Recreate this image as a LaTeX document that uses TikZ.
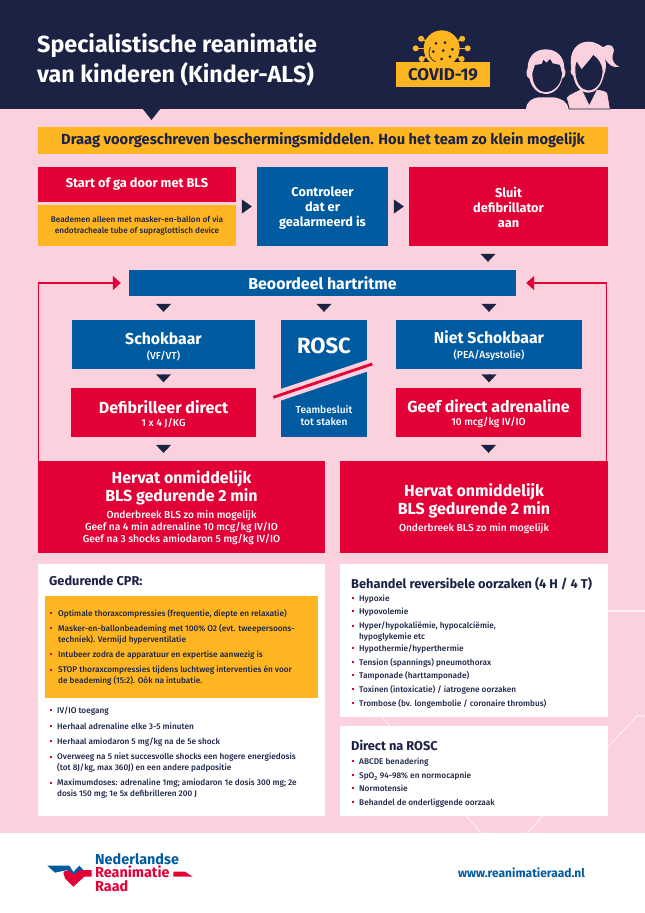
\documentclass[tikz,border=0pt]{standalone}
\usepackage{fontspec}
\setmainfont{Fira Sans}
\newfontfamily\medfont{Fira Sans Medium}
\usetikzlibrary{arrows.meta}
\definecolor{nrnavy}{HTML}{1B2244}
\definecolor{nrpink}{HTML}{FAD1DD}
\definecolor{nryellow}{HTML}{FDB522}
\definecolor{nrred}{HTML}{E30037}
\definecolor{nrblue}{HTML}{005BA0}
\newcommand{\fsz}[2]{\fontsize{#1}{#2}\selectfont}
\newcommand{\klein}{\medfont\mdseries\fsz{10.2}{12}}
\newcommand{\zak}[1]{\rule{0pt}{#1pt}}
\begin{document}
\begin{tikzpicture}[x=1pt,y=-1pt,
    box/.style={rectangle,inner sep=0pt,align=center,font=\bfseries\fsz{12.8}{15}},
    redbox/.style={box,fill=nrred,text=white},
    bluebox/.style={box,fill=nrblue,text=white},
    yellowbox/.style={box,fill=nryellow,text=nrnavy},
    whitebox/.style={rectangle,fill=white,inner sep=0pt},
    kop/.style={inner sep=0pt,anchor=west,text=nrnavy,font=\bfseries\fsz{12.8}{14}},
    item/.style={inner sep=0pt,anchor=north west,align=left,text=nrnavy,font=\medfont\fsz{8.25}{11},execute at begin node=\strut},
    stip/.style={fill=nrred,minimum size=2pt,inner sep=0pt},
    stap/.style={draw=nrnavy,-{Triangle[width=15pt,length=8pt,fill=nrnavy]},shorten <=#1,shorten >=#1},
    stap/.default=8pt,
    stapr/.style={draw=nrnavy,-{Triangle[width=14pt,length=10pt,fill=nrnavy]},shorten <=5.5pt,shorten >=5pt},
    terug/.style={draw=nrred,line width=1.6pt,-{Triangle[width=14pt,length=8pt,fill=nrred]}}]
  \useasboundingbox (0,0) rectangle (645,913);

  % Background, header and footer
  \fill [nrpink] (0,0) rectangle (645,913);
  \draw [white,line width=1.2pt,opacity=0.6] (608,611) -- (645,611);
  \draw [white,line width=1.2pt,opacity=0.6] (382,717) -- (481,833);
  \draw [white,line width=1.2pt,opacity=0.6] (527,833) -- (637,716) -- (645,716);
  \fill [nrnavy] (0,0) rectangle (645,109);
  \fill [nrnavy] (142,108) -- (161,108) -- (151.5,120) -- cycle;
  \fill [white] (0,833) rectangle (645,913);

  % Title
  \node (titel) at (37,60) [inner sep=0pt,anchor=west,align=left,text=white,font=\bfseries\fsz{23.3}{30}] {Specialistische reanimatie\\van kinderen (Kinder-ALS)};

  % The virus above the label
  \begin{scope}[shift={(380,10)},x=0.3333pt,y=-0.3333pt]
    \fill [nryellow] (185,115) circle (54);
    \foreach \ang/\len in {0/78,28/68,55/68,90/68,125/68,152/68,180/78,205/68,335/68} {
      \draw [nryellow,line width=1.6pt] (185,115) -- ++(\ang:\len);
      \fill [nryellow] (185,115) ++(\ang:\len) circle (9);
    }
    \foreach \dx/\dy in {195/98,217/118,190/122,168/100,210/140,185/147,160/125} {
      \fill [nrnavy] (\dx,\dy) circle (4.5);
    }
    \draw [nrnavy,line width=0.7pt] (152,112) .. controls (140,130) and (150,150) .. (170,158);
  \end{scope}
  \node (covid) at (443,74.5) [yellowbox,minimum width=94,minimum height=25,font=\bfseries\fsz{17}{18}] {COVID-19};

  % The two children
  \begin{scope}[shift={(380,10)},x=0.3333pt,y=-0.3333pt]
    \fill [nrpink] (438,297) .. controls (440,275) and (455,265) .. (475,262) -- (520,262) .. controls (545,265) and (562,275) .. (566,297) -- cycle;
    \fill [nrpink] (497,118) .. controls (530,118) and (553,140) .. (553,175) .. controls (560,185) and (555,205) .. (547,205) .. controls (540,235) and (520,252) .. (497,252) .. controls (475,252) and (455,235) .. (448,205) .. controls (440,205) and (436,185) .. (443,175) .. controls (443,140) and (465,118) .. (497,118) -- cycle;
    \fill [nrnavy] (457,190) .. controls (457,225) and (475,246) .. (497,246) .. controls (520,246) and (545,225) .. (546,190) -- (540,165) -- (518,160) -- (510,147) -- (500,158) -- (490,150) -- (485,162) -- (465,165) -- cycle;
    \filldraw [fill=nrpink,draw=nrnavy,line width=0.7pt] (559,262) .. controls (570,250) and (590,245) .. (605,235) -- (628,282) -- (650,238) .. controls (665,240) and (680,242) .. (683,250) -- (691,297) -- (568,297) -- cycle;
    \fill [nrpink] (574,175) .. controls (565,125) and (590,95) .. (625,95) .. controls (650,95) and (665,110) .. (670,112) .. controls (690,95) and (710,110) .. (698,135) .. controls (695,155) and (705,165) .. (718,170) .. controls (700,175) and (685,165) .. (675,145) .. controls (680,165) and (678,180) .. (672,195) .. controls (665,225) and (650,248) .. (625,248) .. controls (600,248) and (585,225) .. (580,198) .. controls (572,195) and (570,185) .. (574,175) -- cycle;
    \fill [nrnavy] (586,185) .. controls (588,220) and (605,241) .. (625,241) .. controls (648,241) and (665,220) .. (668,185) .. controls (668,165) and (655,145) .. (640,135) .. controls (630,150) and (615,165) .. (605,178) -- (590,155) .. controls (586,165) and (585,175) .. (586,185) -- cycle;
  \end{scope}

  % Top row of boxes
  \node (draag) at (323,140) [yellowbox,minimum width=570,minimum height=27,font=\bfseries\fsz{14.7}{17}] {Draag voorgeschreven beschermingsmiddelen. Hou het team zo klein mogelijk};
  \node (start) at (137,184.5) [redbox,minimum width=198,minimum height=35] {Start of ga door met BLS};
  \node (beademen) at (137,225.5) [yellowbox,minimum width=198,minimum height=41,font=\medfont\fsz{8.2}{11}] {Beademen alleen met masker-en-ballon of via\\endotracheale tube of supraglottisch device};
  \node (controleer) at (322.5,206.5) [bluebox,minimum width=131,minimum height=79] {\zak{13}Controleer\\dat er\\gealarmeerd is};
  \node (sluit) at (508.5,206.5) [redbox,minimum width=199,minimum height=79] {\zak{13}Sluit\\defibrillator\\aan};

  % Rhythm check and the branches
  \node (hartritme) at (322.5,283) [bluebox,minimum width=387,minimum height=26,font=\bfseries\fsz{15.9}{17}] {Beoordeel hartritme};
  \node (schokbaar) at (163.5,344.5) [bluebox,minimum width=183,minimum height=49,font=\bfseries\fsz{15.8}{15}] {\zak{16}Schokbaar\\{\klein (VF/VT)}};
  \node (nietschok) at (489,344.5) [bluebox,minimum width=186,minimum height=49,font=\bfseries\fsz{15.8}{15}] {\zak{16}Niet Schokbaar\\{\klein (PEA/Asystolie)}};
  \node (defib) at (163.5,412.5) [redbox,minimum width=185,minimum height=49,font=\bfseries\fsz{16}{13}] {\zak{16}Defibrilleer direct\\{\klein 1 x 4 J/KG}};
  \node (adrenaline) at (488.5,412.5) [redbox,minimum width=185,minimum height=49,font=\bfseries\fsz{16}{13}] {\zak{16}Geef direct adrenaline\\{\klein 10 mcg/kg IV/IO}};

  % ROSC box with its struck through band
  \node (rosc) at (324,378.5) [bluebox,minimum width=86,minimum height=117] {};
  \draw [nrpink,line width=11pt] (273.3,397.3) -- (372.3,364);
  \draw [nrred,line width=2.8pt] (273.3,397.3) -- (372.3,364);
  \node (rosctitel) at (324,346) [box,text=white,font=\bfseries\fsz{22}{24}] {ROSC};
  \node (rosctekst) at (324,416) [box,text=white,font=\klein] {Teambesluit\\tot staken};

  % CPR boxes
  \node (hervatl) at (181.5,507) [redbox,minimum width=287,minimum height=92,font=\bfseries\fsz{16}{18}] {\zak{15}Hervat onmiddelijk\\BLS gedurende 2 min\\[-1pt]{\klein Onderbreek BLS zo min mogelijk}\\[-6pt]{\klein Geef na 4 min adrenaline 10 mcg/kg IV/IO}\\[-6pt]{\klein Geef na 3 shocks amiodaron 5 mg/kg IV/IO}};
  \node (hervatr) at (474,507) [redbox,minimum width=268,minimum height=92,font=\bfseries\fsz{16}{18.5}] {\zak{16}Hervat onmiddelijk\\BLS gedurende 2 min\\[-2pt]{\klein Onderbreek BLS zo min mogelijk}};

  % Small arrows between the boxes
  \draw [stapr] (start.east |- controleer.west) -- (controleer.west);
  \draw [stapr] (controleer.east) -- (sluit.west);
  \draw [stap] ([xshift=-20.5pt]sluit.south) -- ([xshift=-20.5pt]sluit.south |- hartritme.north);
  \foreach \dest in {schokbaar,rosc,nietschok} {
    \draw [stap] (\dest |- hartritme.south) -- (\dest.north);
  }
  \draw [stap=5.5pt] (schokbaar.south) -- (schokbaar.south |- defib.north);
  \draw [stap=5.5pt] (nietschok.south) -- (nietschok.south |- adrenaline.north);
  \draw [stap] (defib.south) -- (defib.south |- hervatl.north);
  \draw [stap] (adrenaline.south) -- (adrenaline.south |- hervatr.north);

  % Red lines back to the rhythm check
  \draw [terug,shorten >=8pt] ([xshift=0.8pt]hervatl.north west) |- (hartritme.west);
  \draw [terug,shorten >=10pt] ([xshift=-1.8pt]hervatr.north east) |- (hartritme.east);

  % During CPR
  \node (cprvak) at (181.5,690) [whitebox,minimum width=287,minimum height=252] {};
  \node (cprgeel) at (181.5,647) [yellowbox,minimum width=273,minimum height=102] {};
  \node (cprkop) at (49,581) [kop] {Gedurende CPR:};
  \foreach \n/\y/\txt in {
    1/613/{Optimale thoraxcompressies (frequentie, diepte en relaxatie)},
    2/628/{Masker-en-ballonbeademing met 100\% O2 (evt. tweepersoons-\\techniek). Vermijd hyperventilatie},
    3/654/{Intubeer zodra de apparatuur en expertise aanwezig is},
    4/670/{STOP thoraxcompressies tijdens luchtweg interventies én voor\\de beademing (15:2). Oók na intubatie.}} {
    \node (geel\n) at (58,\y-4) [item] {\txt};
    \node (geelstip\n) at (51,\y) [stip] {};
  }
  \foreach \n/\y/\txt in {
    1/710/{IV/IO toegang},
    2/726/{Herhaal adrenaline elke 3-5 minuten},
    3/741/{Herhaal amiodaron 5 mg/kg na de 5e shock},
    4/757/{Overweeg na 5 niet succesvolle shocks een hogere energiedosis\\(tot 8J/kg, max 360J) en een andere padpositie},
    5/783/{Maximumdoses: adrenaline 1mg; amiodaron 1e dosis 300 mg; 2e\\dosis 150 mg; 1e 5x defibrilleren 200 J}} {
    \node (cpr\n) at (57,\y-4) [item] {\txt};
    \node (cprstip\n) at (50.5,\y) [stip] {};
  }

  % Reversible causes
  \node (oorzakenvak) at (474,640.5) [whitebox,minimum width=268,minimum height=153] {};
  \node (oorzakenkop) at (351,584) [kop] {Behandel reversibele oorzaken (4 H / 4 T)};
  \foreach \n/\y/\txt in {
    1/598/{Hypoxie},
    2/611/{Hypovolemie},
    3/626/{Hyper/hypokaliëmie, hypocalciëmie,\\hypoglykemie etc},
    4/648/{Hypothermie/hyperthermie},
    5/662/{Tension (spannings) pneumothorax},
    6/675/{Tamponade (harttamponade)},
    7/689/{Toxinen (intoxicatie) / iatrogene oorzaken},
    8/703/{Trombose (bv. longembolie / coronaire thrombus)}} {
    \node (oorzaak\n) at (359,\y-4) [item] {\txt};
    \node (oorzaakstip\n) at (352.5,\y) [stip] {};
  }

  % After ROSC
  \node (naroscvak) at (474,771) [whitebox,minimum width=268,minimum height=90] {};
  \node (naroscop) at (351,745) [kop] {Direct na ROSC};
  \foreach \n/\y/\txt in {
    1/761/{ABCDE benadering},
    2/775/{SpO\textsubscript{2} 94-98\% en normocapnie},
    3/788/{Normotensie},
    4/802/{Behandel de onderliggende oorzaak}} {
    \node (narosc\n) at (359,\y-4) [item] {\txt};
    \node (naroscstip\n) at (352.5,\y) [stip] {};
  }

  % Logo and web address
  \begin{scope}[shift={(30,830)},x=0.3333pt,y=-0.3333pt]
    \fill [nrblue] (52,107) -- (118,107) -- (130,126) -- (148,107) -- (165,125) -- (140,128) -- (130,135) -- (112,120) -- (75,128) -- cycle;
    \fill [nrred] (100,128) .. controls (105,118) and (120,118) .. (130,135) .. controls (140,125) and (150,120) .. (162,120) -- (185,120) -- (185,140) -- (163,140) -- (130,170) -- (105,145) -- cycle;
    \fill [nrred] (430,125) -- (465,125) -- (488,140) -- (430,140) -- cycle;
  \end{scope}
  \node (logotekst) at (95,872.5) [inner sep=0pt,anchor=west,align=left,font=\bfseries\fsz{14.4}{13.5}] {\textcolor{nrblue}{Nederlandse}\\\textcolor{nrred}{Reanimatie}\\\textcolor{nrred}{Raad}};
  \node (website) at (521.5,873) [inner sep=0pt,text=nrblue,font=\bfseries\fsz{12}{13}] {www.reanimatieraad.nl};
\end{tikzpicture}
\end{document}
